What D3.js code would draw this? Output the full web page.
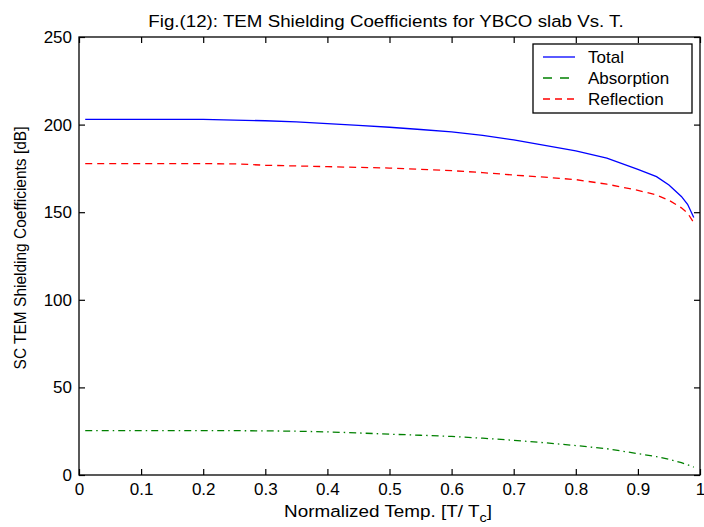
<!DOCTYPE html>
<html>
<head>
<meta charset="utf-8">
<script src="https://cdn.jsdelivr.net/npm/d3@7"></script>
<style>
  html, body { margin: 0; padding: 0; background: #ffffff; }
  svg { display: block; }
  text { font-family: "Liberation Sans", Arial, sans-serif; fill: #000; }
</style>
</head>
<body>
<svg id="chart" width="704" height="527"></svg>
<script>
// ---- data ----
const titleText = "Fig.(12): TEM Shielding Coefficients for YBCO slab Vs. T.";
const yLabelText = "SC TEM Shielding Coefficients [dB]";
const xTickValues = [0, 0.1, 0.2, 0.3, 0.4, 0.5, 0.6, 0.7, 0.8, 0.9, 1];
const xTickLabels = ["0", "0.1", "0.2", "0.3", "0.4", "0.5", "0.6", "0.7", "0.8", "0.9", "1"];
const yTickValues = [0, 50, 100, 150, 200, 250];
const yTickLabels = ["0", "50", "100", "150", "200", "250"];
const seriesNames = ["Total", "Absorption", "Reflection"];
const temps = [0.01, 0.1, 0.2, 0.25, 0.3, 0.35, 0.4, 0.45, 0.5, 0.55, 0.6, 0.65, 0.7, 0.75, 0.8, 0.85, 0.9, 0.93, 0.95, 0.97, 0.98, 0.99];
const total = [203.0, 203.0, 203.0, 202.6, 202.2, 201.5, 200.6, 199.6, 198.5, 197.2, 195.8, 193.8, 191.3, 188.2, 185.0, 180.8, 174.5, 170.3, 165.5, 159.0, 154.5, 147.0];
const absorption = [25.3, 25.3, 25.3, 25.3, 25.2, 25.0, 24.6, 24.0, 23.3, 22.7, 22.0, 21.0, 19.8, 18.4, 16.8, 15.0, 12.2, 10.5, 9.0, 7.0, 5.8, 4.5];
const reflection = [177.7, 177.7, 177.7, 177.6, 176.8, 176.4, 176.0, 175.6, 175.2, 174.5, 173.7, 172.6, 171.2, 170.0, 168.6, 166.0, 162.5, 159.8, 156.8, 152.5, 149.5, 144.0];

// ---- layout ----
const svg = d3.select("#chart");
const L = 79, R = 700, T = 37, B = 475;
const x = d3.scaleLinear().domain([0, 1]).range([L, R]);
const y = d3.scaleLinear().domain([0, 250]).range([B, T]);

const styles = [
  { color: "#0000ff", dash: null, legDash: null },
  { color: "#008000", dash: "7,4,1.5,4", legDash: "9,8" },
  { color: "#ff0000", dash: "7,5", legDash: "7,5" }
];
const seriesValues = [total, absorption, reflection];

function fitWidth(sel, target) {
  const w = sel.node().getComputedTextLength();
  return target / w;
}

// axes
const fmtX = d => xTickLabels[xTickValues.indexOf(d)];
const fmtY = d => yTickLabels[yTickValues.indexOf(d)];

const gx = svg.append("g").attr("transform", `translate(0,${B})`)
  .call(d3.axisBottom(x).tickValues(xTickValues).tickFormat(fmtX).tickSize(-6).tickSizeOuter(0).tickPadding(8));
const gxt = svg.append("g").attr("transform", `translate(0,${T})`)
  .call(d3.axisTop(x).tickValues(xTickValues).tickFormat(() => "").tickSize(-6).tickSizeOuter(0));
const gy = svg.append("g").attr("transform", `translate(${L},0)`)
  .call(d3.axisLeft(y).tickValues(yTickValues).tickFormat(fmtY).tickSize(-6).tickSizeOuter(0).tickPadding(7));
const gyr = svg.append("g").attr("transform", `translate(${R},0)`)
  .call(d3.axisRight(y).tickValues(yTickValues).tickFormat(() => "").tickSize(-6).tickSizeOuter(0));

[gx, gxt, gy, gyr].forEach(g => {
  g.select(".domain").remove();
  g.selectAll(".tick line").attr("stroke", "#000").attr("stroke-width", 1.2);
  g.selectAll(".tick text").attr("font-size", 17).attr("font-family", "Liberation Sans, Arial, sans-serif").attr("fill", "#000");
});

// series lines
const line = d3.line().x((d, i) => x(temps[i])).y(d => y(d)).curve(d3.curveLinear);
seriesValues.forEach((vals, k) => {
  svg.append("path")
    .datum(vals)
    .attr("d", line)
    .attr("fill", "none")
    .attr("stroke", styles[k].color)
    .attr("stroke-width", 1.3)
    .attr("stroke-dasharray", styles[k].dash);
});

// box
svg.append("rect").attr("x", L).attr("y", T).attr("width", R - L).attr("height", B - T)
  .attr("fill", "none").attr("stroke", "#000").attr("stroke-width", 1.3);

// title
const title = svg.append("text").attr("x", 0).attr("y", 0).attr("font-size", 17).text(titleText);
const sT = fitWidth(title, 476);
title.attr("text-anchor", "middle").attr("transform", `translate(386,27) scale(${sT},1)`);

// x label
const xl = svg.append("text").attr("font-size", 17).attr("text-anchor", "middle");
xl.append("tspan").text("Normalized Temp. [T/ T");
xl.append("tspan").attr("font-size", 13).attr("dy", 5).text("c");
xl.append("tspan").attr("dy", -5).text("]");
const sX = fitWidth(xl, 208);
xl.attr("transform", `translate(388,517) scale(${sX},1)`);

// y label
const yl = svg.append("text").attr("font-size", 17).attr("text-anchor", "middle").text(yLabelText);
const sY = fitWidth(yl, 243);
yl.attr("transform", `translate(26,248) rotate(-90) scale(${sY},1)`);

// legend
const lg = svg.append("g");
lg.append("rect").attr("x", 533).attr("y", 44).attr("width", 159).attr("height", 69)
  .attr("fill", "#fff").attr("stroke", "#000").attr("stroke-width", 1.3);
const legY = [57, 78, 99];
seriesNames.forEach((name, k) => {
  lg.append("line").attr("x1", 543).attr("x2", 575).attr("y1", legY[k]).attr("y2", legY[k])
    .attr("stroke", styles[k].color).attr("stroke-width", 1.3)
    .attr("stroke-dasharray", styles[k].legDash);
  lg.append("text").attr("x", 588).attr("y", legY[k] + 6).attr("font-size", 17).text(name);
});
</script>
</body>
</html>
